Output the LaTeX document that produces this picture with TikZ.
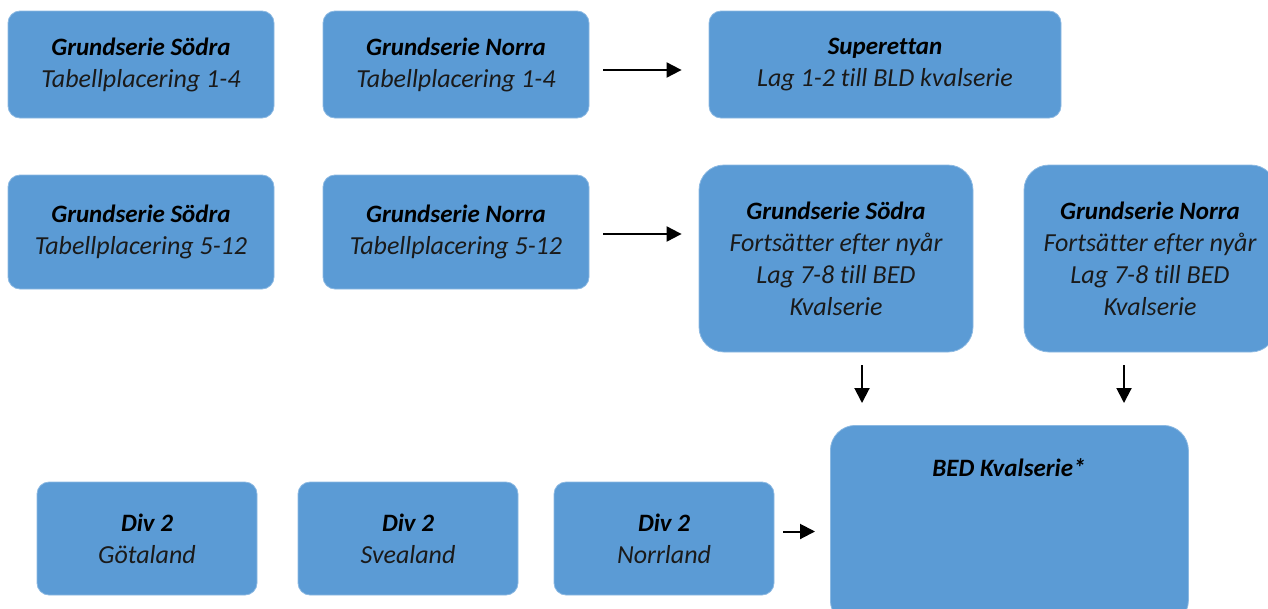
\documentclass[tikz,border=0pt]{standalone}
\usepackage{fontspec}
\setmainfont{Carlito}[Ligatures=NoCommon]
\usetikzlibrary{arrows.meta}
\definecolor{boxblue}{HTML}{5B9BD5}
\definecolor{txt}{HTML}{1A1A1A}
\tikzset{
  box/.style={draw=boxblue!70!white, line width=0.8pt, fill=boxblue, rounded corners=12pt, inner sep=0pt, align=center,
    text=txt, font=\fontsize{26}{32}\selectfont\itshape},
  bigbox/.style={box, rounded corners=25pt},
  arr/.style={line width=2pt, -{Triangle[length=15pt,width=15pt]}},
}
\newcommand{\ttl}[1]{{\fontsize{25}{32}\selectfont\bfseries\color{black}#1}}
\begin{document}
\begin{tikzpicture}[x=1pt,y=-1pt]
\useasboundingbox (0,0) rectangle (1268,608);
% row 1
\node[box, minimum width=266pt, minimum height=107pt] (b1) at (141,64.5) {\ttl{Grundserie Södra}\\Tabellplacering 1-4};
\node[box, minimum width=266pt, minimum height=107pt] (b2) at (456,64.5) {\ttl{Grundserie Norra}\\Tabellplacering 1-4};
\node[box, minimum width=352pt, minimum height=107pt] (b3) at (885,64.5) {\ttl{Superettan}\\Lag 1-2 till BLD kvalserie};
% row 2
\node[box, minimum width=266pt, minimum height=114pt] (b4) at (141,232) {\ttl{Grundserie Södra}\\Tabellplacering 5-12};
\node[box, minimum width=266pt, minimum height=114pt] (b5) at (456,232) {\ttl{Grundserie Norra}\\Tabellplacering 5-12};
\node[bigbox, minimum width=274pt, minimum height=187pt] (b6) at (836,258.5) {\ttl{Grundserie Södra}\\Fortsätter efter nyår\\Lag 7-8 till BED\\Kvalserie};
\node[bigbox, minimum width=252pt, minimum height=187pt] (b7) at (1150,258.5) {\ttl{Grundserie Norra}\\Fortsätter efter nyår\\Lag 7-8 till BED\\Kvalserie};
% BED
\node[bigbox, minimum width=358pt, minimum height=200pt, anchor=north west] (bed) at (830,425) {};
\node[font=\fontsize{25}{32}\selectfont\itshape\bfseries, inner sep=0pt] (bedlbl) at (1009,468) {BED Kvalserie*};
% row 3
\node[box, minimum width=220pt, minimum height=113pt] (b8) at (147,538.5) {\ttl{Div 2}\\Götaland};
\node[box, minimum width=220pt, minimum height=113pt] (b9) at (408,538.5) {\ttl{Div 2}\\Svealand};
\node[box, minimum width=220pt, minimum height=113pt] (b10) at (664,538.5) {\ttl{Div 2}\\Norrland};
% arrows
\draw[arr, shorten <=14pt, shorten >=27pt] ([yshift=-5.5pt]b2.east) -- ([yshift=-5.5pt]b2.east -| b3.west);
\draw[arr, shorten <=14pt, shorten >=17pt] ([yshift=-2pt]b5.east) -- ([yshift=-2pt]b5.east -| b6.west);
\draw[arr, shorten <=13pt, shorten >=22pt] ([xshift=26pt]b6.south) -- ([xshift=26pt]b6.south |- bed.north);
\draw[arr, shorten <=13pt, shorten >=22pt] ([xshift=-26pt]b7.south) -- ([xshift=-26pt]b7.south |- bed.north);
\draw[arr, shorten <=9pt, shorten >=15pt] ([yshift=7pt]b10.east) -- ([yshift=7pt]b10.east -| bed.west);
\end{tikzpicture}
\end{document}
